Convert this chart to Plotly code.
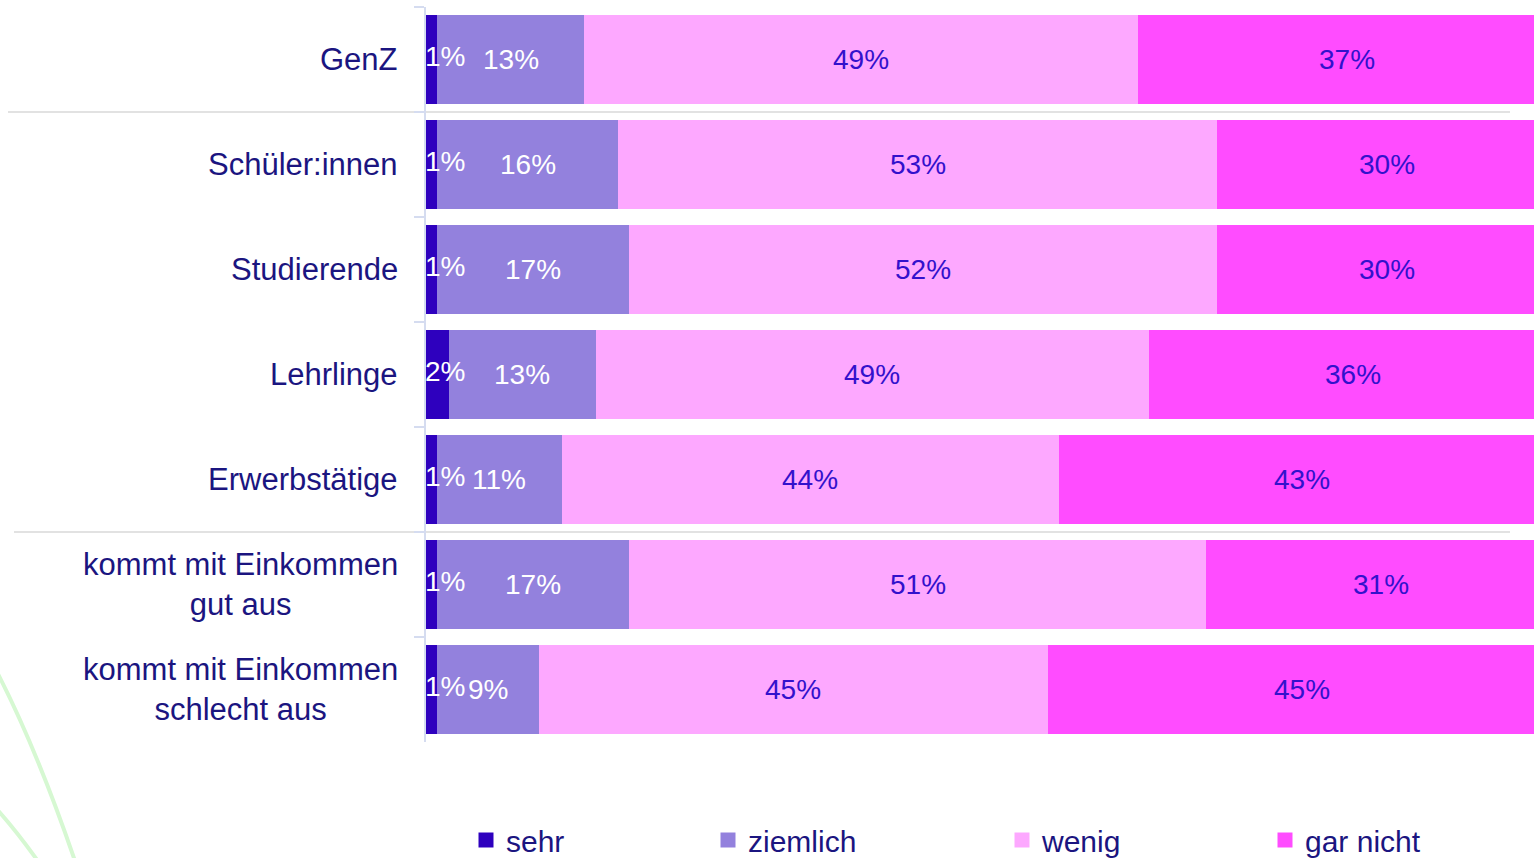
import plotly.graph_objects as go

# Survey groups (top to bottom) and answer shares in percent
categories = [
    "GenZ",
    "Schüler:innen",
    "Studierende",
    "Lehrlinge",
    "Erwerbstätige",
    "kommt mit Einkommen<br>gut aus",
    "kommt mit Einkommen<br>schlecht aus",
]
sehr = [1, 1, 1, 2, 1, 1, 1]
ziemlich = [13, 16, 17, 13, 11, 17, 9]
wenig = [49, 53, 52, 49, 44, 51, 45]
gar_nicht = [37, 30, 30, 36, 43, 31, 45]
series_names = ["sehr", "ziemlich", "wenig", "gar nicht"]

series_values = [sehr, ziemlich, wenig, gar_nicht]
colors = ["#2E00BE", "#9381DD", "#FDA8FF", "#FF4CFF"]
label_colors = ["#FFFFFF", "#FFFFFF", "#3311CC", "#3311CC"]
text_color = "#1B1580"
font_family = "Liberation Sans, Arial, sans-serif"

W, H = 1534, 858
M_L, M_R, M_T, M_B = 426, 0, 7, 116
PW, PH = W - M_L - M_R, H - M_T - M_B


def paper_x(px):
    return (px - M_L) / PW


def paper_y(py):
    return (H - M_B - py) / PH


fig = go.Figure()

for name, vals, col in zip(series_names, series_values, colors):
    fig.add_trace(go.Bar(
        y=categories, x=vals, orientation="h", name=name,
        marker=dict(color=col, line=dict(width=0)),
        showlegend=False, hoverinfo="x+name",
    ))

# legend entries (square swatches), each in its own legend box
legend_px = [466, 708, 1002, 1265]
legend_keys = ["legend", "legend2", "legend3", "legend4"]
for name, col, key in zip(series_names, colors, legend_keys):
    fig.add_trace(go.Scatter(
        x=[None], y=[None], mode="markers", name=name, legend=key,
        marker=dict(symbol="square", size=15, color=col),
        showlegend=True,
    ))

annotations = []
# value labels inside the segments
for i, cat in enumerate(categories):
    start = 0
    for s, vals in enumerate(series_values):
        v = vals[i]
        if s == 0:
            annotations.append(dict(
                x=0, y=cat, xref="x", yref="y", text=f"{v}%",
                showarrow=False, xanchor="left", yanchor="middle",
                xshift=-3, yshift=3,
                font=dict(size=28, color=label_colors[s], family=font_family),
            ))
        else:
            annotations.append(dict(
                x=start + v / 2, y=cat, xref="x", yref="y", text=f"{v}%",
                showarrow=False, xanchor="center", yanchor="middle",
                font=dict(size=28, color=label_colors[s], family=font_family),
            ))
        start += v

# category labels, centred lines
for cat in categories:
    annotations.append(dict(
        x=0, y=cat, xref="paper", yref="y", text=cat, showarrow=False,
        xanchor="right", yanchor="middle", align="center", xshift=-26,
        font=dict(size=31, color=text_color, family=font_family),
    ))

shapes = []
# group separators
for boundary, x0 in [(0.5, 8), (4.5, 14)]:
    shapes.append(dict(
        type="line", xref="paper", yref="y",
        x0=paper_x(x0), x1=paper_x(1510), y0=boundary, y1=boundary,
        line=dict(color="#D8D8D8", width=1.5), layer="below",
    ))

# decorative green swooshes in the lower left corner
def swoosh(p0, c, p1):
    return (f"M {paper_x(p0[0])},{paper_y(p0[1])} "
            f"Q {paper_x(c[0])},{paper_y(c[1])} {paper_x(p1[0])},{paper_y(p1[1])}")

for p0, c, p1 in [((-3, 672), (38, 752), (76, 864)), ((-6, 806), (16, 830), (40, 864))]:
    shapes.append(dict(
        type="path", xref="paper", yref="paper", path=swoosh(p0, c, p1),
        line=dict(color="#D6F8D2", width=4), layer="below",
    ))

legend_common = dict(
    orientation="h", yanchor="middle", xanchor="left",
    y=paper_y(840), bgcolor="rgba(0,0,0,0)", borderwidth=0,
    font=dict(size=30, color=text_color, family=font_family),
    itemwidth=30,
)

layout_legends = {}
for key, px in zip(legend_keys, legend_px):
    layout_legends[key] = dict(legend_common, x=paper_x(px))

fig.update_layout(
    width=W, height=H,
    margin=dict(l=M_L, r=M_R, t=M_T, b=M_B, pad=0, autoexpand=False),
    barmode="stack", bargap=0.16,
    paper_bgcolor="white", plot_bgcolor="white",
    font=dict(family=font_family, color=text_color),
    xaxis=dict(range=[0, 98.05], visible=False, fixedrange=True),
    yaxis=dict(
        type="category", categoryorder="array", categoryarray=categories,
        range=[6.5, -0.5], showticklabels=False, showgrid=False, zeroline=False,
        showline=True, linecolor="#D5DCF0", linewidth=2,
        ticks="outside", tickson="boundaries", ticklen=10,
        tickcolor="#D5DCF0", tickwidth=2, fixedrange=True,
    ),
    annotations=annotations,
    shapes=shapes,
    **layout_legends,
)

fig.write_html("out.html")
